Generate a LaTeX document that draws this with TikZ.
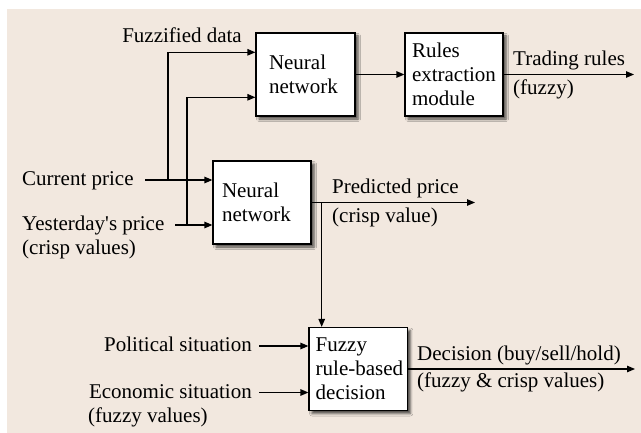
\documentclass[tikz,border=0pt]{standalone}
\usepackage{fontspec}
\newfontfamily\labelfont{Liberation Serif}
\usetikzlibrary{arrows.meta,shadows.blur}
\definecolor{panel}{RGB}{242,232,223}
\tikzset{
  x=1pt, y=-1pt,
  every node/.style={font=\labelfont\fontsize{21}{24}\selectfont},
  lbl/.style={inner sep=0pt},
  blk/.style={draw=black, fill=white, line width=1.2pt, minimum height=83pt,
    align=left, inner ysep=0pt,
    blur shadow={shadow xshift=3pt, shadow yshift=-3pt,
      shadow blur radius=2.5pt, shadow opacity=70}},
  arr/.style={line width=1.2pt, -{Triangle[length=8pt,width=6.5pt]}}
}
\begin{document}
\begin{tikzpicture}
\useasboundingbox (0,0) rectangle (641,433);
\fill[panel] (7,9) rectangle (641,433);

% processing blocks
\node[blk, text width=73pt, inner xsep=13pt] (nn1) at (305.5,74.5) {Neural\\network};
\node[blk, text width=84pt, inner xsep=7pt] (rules) at (454,74.5) {Rules\\extraction\\module};
\node[blk, text width=80pt, inner xsep=9pt] (nn2) at (262,202.5) {Neural\\network};
\node[blk, text width=85pt, inner xsep=6.7pt] (dec) at (358.2,369) {Fuzzy\\\mbox{rule-based}\\decision};

% input labels
\node[lbl, anchor=base east] (fz) at (242,43) {Fuzzified data};
\node[lbl, anchor=base west] (cp) at (22,186) {Current price};
\node[lbl, anchor=base west] (yp) at (22,231) {Yesterday's price};
\node[lbl, anchor=base west] (yp2) at (22,255) {(crisp values)};
\node[lbl, anchor=base east] (ps) at (252,352) {Political situation};
\node[lbl, anchor=base east] (es) at (252,399) {Economic situation};
\node[lbl, anchor=base west] (es2) at (88,422) {(fuzzy values)};

% output labels
\node[lbl, anchor=base west] (tr) at (513,66) {Trading rules};
\node[lbl, anchor=base west] (tr2) at (513,95) {(fuzzy)};
\node[lbl, anchor=base west] (pp) at (332,194) {Predicted price};
\node[lbl, anchor=base west] (pp2) at (332,223) {(crisp value)};
\node[lbl, anchor=base west] (dd) at (417,360) {Decision (buy/sell/hold)};
\node[lbl, anchor=base west] (dd2) at (417,388) {(fuzzy \& crisp values)};

% connector ends and junctions
\coordinate (cp0) at (145,180);
\coordinate (yp0) at (175,225);
\coordinate (ps0) at (259,346);
\coordinate (es0) at (259,392.5);
\coordinate (j1) at (168,180);
\coordinate (j2) at (187,225);
\coordinate (j3) at (321.7,202.5);
\coordinate (trE) at (634,74.5);
\coordinate (ppE) at (475,202.5);
\coordinate (ddE) at (635,369);

% inputs of the price predictor
\draw[arr] (cp0) -- (cp0 -| nn2.west);
\draw[arr] (yp0) -- (yp0 -| nn2.west);

% fuzzified branches into the first network
\draw[arr] (j1) |- ([yshift=22.2pt]nn1.west);
\draw[arr] (j2) |- ([yshift=-22.8pt]nn1.west);

% upper chain
\draw[arr] (nn1) -- (rules);
\draw[arr] (rules.east) -- (trE);

% predicted price
\draw[arr] (nn2.east) -- (ppE);
\draw[arr] (j3) -- (j3 |- dec.north);

% decision inputs and output
\draw[arr] (ps0) -- (ps0 -| dec.west);
\draw[arr] (es0) -- (es0 -| dec.west);
\draw[arr] (dec.east) -- (ddE);
\end{tikzpicture}
\end{document}
